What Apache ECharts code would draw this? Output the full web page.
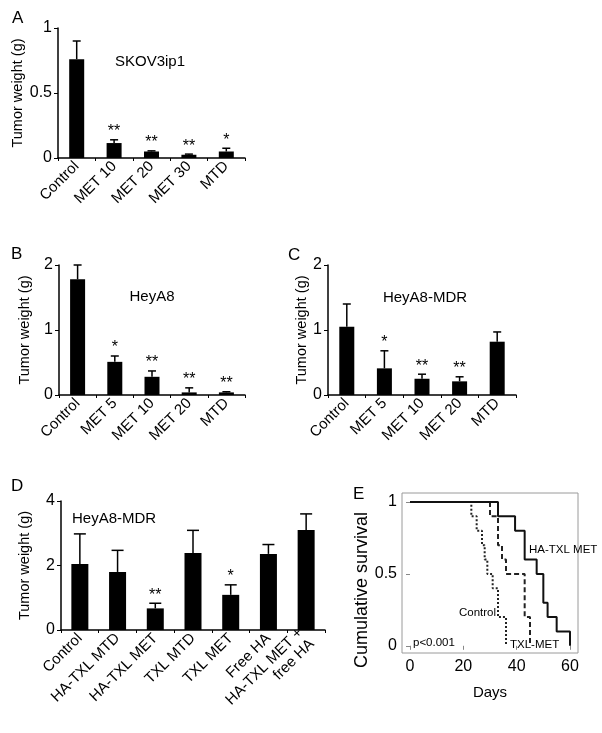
<!DOCTYPE html>
<html><head><meta charset="utf-8">
<script src="https://cdn.jsdelivr.net/npm/echarts@6/dist/echarts.min.js"></script>
<style>html,body{margin:0;padding:0;background:#fff}#c{width:602px;height:733px}</style>
</head><body><div id="c"></div>
<script>
// ---------- DATA ----------
const catsA = ['Control','MET 10','MET 20','MET 30','MTD'];
const valsA = [0.76, 0.115, 0.05, 0.025, 0.05];
const errA  = [0.90, 0.14, 0.055, 0.03, 0.075];
const starsA = ['', '**', '**', '**', '*'];

const catsB = ['Control','MET 5','MET 10','MET 20','MTD'];
const valsB = [1.78, 0.51, 0.28, 0.04, 0.04];
const errB  = [2.0, 0.60, 0.37, 0.11, 0.05];
const starsB = ['', '*', '**', '**', '**'];

const catsC = ['Control','MET 5','MET 10','MET 20','MTD'];
const valsC = [1.05, 0.41, 0.25, 0.21, 0.82];
const errC  = [1.40, 0.68, 0.32, 0.28, 0.97];
const starsC = ['', '*', '**', '**', ''];

const catsD = ['Control','HA-TXL MTD','HA-TXL MET','TXL MTD','TXL MET','Free HA','HA-TXL MET +\nfree HA'];
const valsD = [2.05, 1.80, 0.67, 2.39, 1.09, 2.36, 3.10];
const errD  = [2.98, 2.47, 0.83, 3.09, 1.40, 2.65, 3.60];
const starsD = ['', '', '**', '', '*', '', ''];

const daysHaTxlMet = [0, 33, 39.4, 43, 47.5, 50, 51.6, 55, 60];
const survHaTxlMet = [1, 0.9, 0.8, 0.6, 0.5, 0.3, 0.2, 0.1, 0];
const daysTxlMet = [0, 30, 33, 34.5, 36, 43, 45];
const survTxlMet = [1, 0.9, 0.7, 0.6, 0.5, 0.2, 0];
const daysControl = [0, 23, 25, 27, 28, 29, 31, 33, 36];
const survControl = [1, 0.9, 0.8, 0.7, 0.6, 0.5, 0.4, 0.2, 0];

const ticksE_x = [0, 20, 40, 60];
const ticksE_y = [0, 0.5, 1];

// ---------- STYLE ----------
const FF = "'Liberation Sans',Arial,sans-serif";
const grids = [
  {left: 58, top: 28, width: 187, height: 130},
  {left: 59, top: 265, width: 186, height: 130},
  {left: 328, top: 265, width: 188, height: 130},
  {left: 61, top: 501, width: 264, height: 129},
  {left: 402, top: 493, width: 176, height: 160, show: true, borderColor: '#9a9a9a', borderWidth: 1, backgroundColor: 'transparent'}
];
const panels = [
  {cats: catsA, vals: valsA, err: errA, stars: starsA, max: 1, barW: 15, cap: 4, gap: 26},
  {cats: catsB, vals: valsB, err: errB, stars: starsB, max: 2, barW: 15, cap: 4, gap: 27},
  {cats: catsC, vals: valsC, err: errC, stars: starsC, max: 2, barW: 15, cap: 4, gap: 17},
  {cats: catsD, vals: valsD, err: errD, stars: starsD, max: 4, barW: 17, cap: 6, gap: 29}
];

const xAxis = [], yAxis = [], series = [];
panels.forEach((p, i) => {
  xAxis.push({
    type: 'category', gridIndex: i, data: p.cats, boundaryGap: true,
    axisLine: {lineStyle: {color: '#000', width: 1.5}},
    axisTick: {show: true, length: 3, lineStyle: {color: '#000'}},
    axisLabel: {rotate: 45, interval: 0, color: '#000', fontSize: 15, fontFamily: FF, margin: 6, lineHeight: 16, align: 'right'}
  });
  yAxis.push({
    type: 'value', gridIndex: i, min: 0, max: p.max, interval: p.max / 2,
    name: 'Tumor weight (g)', nameLocation: 'middle', nameGap: p.gap,
    nameTextStyle: {fontSize: 14.5, fontFamily: FF, color: '#000'},
    axisLine: {show: true, lineStyle: {color: '#000', width: 1.5}},
    axisTick: {show: true, length: 4, lineStyle: {color: '#000'}},
    splitLine: {show: false},
    axisLabel: {color: '#000', fontSize: 16, fontFamily: FF, margin: 6,
      formatter: v => String(v)}
  });
  series.push({
    type: 'bar', xAxisIndex: i, yAxisIndex: i, data: p.vals, barWidth: p.barW,
    itemStyle: {color: '#000'}, silent: true, animation: false
  });
  const cap = p.cap;
  series.push({
    type: 'custom', xAxisIndex: i, yAxisIndex: i, animation: false, silent: true, z: 5,
    data: p.cats.map((c, k) => [k, p.vals[k], p.err[k]]),
    renderItem: (params, api) => {
      const b = api.coord([api.value(0), api.value(1)]);
      const t = api.coord([api.value(0), api.value(2)]);
      const st = {stroke: '#000', lineWidth: 1.5};
      return {type: 'group', children: [
        {type: 'line', shape: {x1: b[0], y1: b[1], x2: t[0], y2: t[1]}, style: st},
        {type: 'line', shape: {x1: t[0] - cap, y1: t[1], x2: t[0] + cap, y2: t[1]}, style: st}
      ]};
    }
  });
  series.push({
    type: 'custom', xAxisIndex: i, yAxisIndex: i, animation: false, silent: true, z: 6,
    data: p.cats.map((c, k) => [k, p.err[k], k]),
    renderItem: (params, api) => {
      const s = p.stars[api.value(2)];
      if (!s) return null;
      const t = api.coord([api.value(0), api.value(1)]);
      return {type: 'text', x: t[0], y: t[1],
        style: {text: s, fill: '#000', font: '16px ' + FF, align: 'center', verticalAlign: 'bottom'}};
    }
  });
});

// Panel E
xAxis.push({
  type: 'value', gridIndex: 4, min: -3, max: 63,
  name: 'Days', nameLocation: 'middle', nameGap: 32,
  nameTextStyle: {fontSize: 15, fontFamily: FF, color: '#000'},
  axisLine: {show: false},
  axisTick: {show: true, length: 4, lineStyle: {color: '#888'}, customValues: ticksE_x},
  axisLabel: {color: '#000', fontSize: 16, fontFamily: FF, margin: 6, customValues: ticksE_x},
  splitLine: {show: false}
});
yAxis.push({
  type: 'value', gridIndex: 4, min: -0.05, max: 1.0625,
  axisLine: {show: false},
  axisTick: {show: true, length: 4, lineStyle: {color: '#888'}, customValues: ticksE_y},
  axisLabel: {color: '#000', fontSize: 16, fontFamily: FF, margin: 5, customValues: ticksE_y,
    formatter: v => String(v)},
  splitLine: {show: false}
});
const zip = (a, b) => a.map((v, k) => [v, b[k]]);
const survSeries = [
  {d: zip(daysControl, survControl), ls: {color: '#222', width: 2, type: [2, 2]}},
  {d: zip(daysTxlMet, survTxlMet), ls: {color: '#222', width: 2, type: [5, 3]}},
  {d: zip(daysHaTxlMet, survHaTxlMet), ls: {color: '#111', width: 2, type: 'solid'}}
];
survSeries.forEach(s => series.push({
  type: 'line', xAxisIndex: 4, yAxisIndex: 4, step: 'end', data: s.d, symbol: 'none',
  lineStyle: s.ls, animation: false, silent: true
}));

const txt = (text, x, y, size) => ({
  type: 'text', x, y, style: {text, fill: '#000', font: size + 'px ' + FF, verticalAlign: 'middle'}
});
const ctxt = (text, x, y, size) => ({
  type: 'text', x, y, style: {text, fill: '#000', font: size + 'px ' + FF, align: 'center', verticalAlign: 'middle'}
});
const graphic = [
  txt('A', 12, 18, 17), txt('B', 11, 254, 17), txt('C', 288, 255, 17),
  txt('D', 11, 486, 17), txt('E', 353, 494, 17),
  ctxt('SKOV3ip1', 150, 62, 15),
  ctxt('HeyA8', 152, 297, 15),
  ctxt('HeyA8-MDR', 425, 298, 15),
  txt('HeyA8-MDR', 72, 519, 15),
  txt('HA-TXL MET', 529, 550, 11.5), txt('Control', 459, 613, 11.5),
  txt('TXL-MET', 510, 645, 11.5), txt('p<0.001', 413, 643, 11.5),
  {type: 'text', x: 362, y: 590, rotation: Math.PI / 2,
    style: {text: 'Cumulative survival', fill: '#000', font: '18px ' + FF, align: 'center', verticalAlign: 'middle'}}
];

const chart = echarts.init(document.getElementById('c'), null, {renderer: 'canvas'});
chart.setOption({animation: false, grid: grids, xAxis, yAxis, series, graphic});
</script></body></html>
